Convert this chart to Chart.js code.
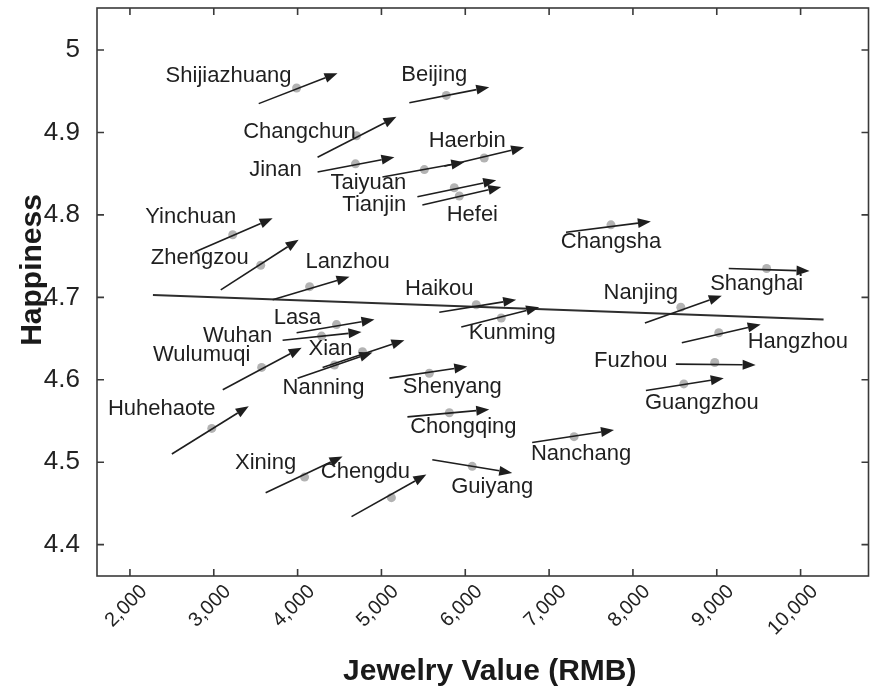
<!DOCTYPE html>
<html>
<head>
<meta charset="utf-8">
<title>Jewelry value and happiness</title>
<script src="https://cdn.jsdelivr.net/npm/chart.js@4.4.1/dist/chart.umd.min.js"></script>
<style>
  html, body { margin: 0; padding: 0; background: #fff; }
  #wrap { width: 873px; height: 700px; }
</style>
</head>
<body>
<div id="wrap"><canvas id="jewelryChart" width="873" height="700"></canvas></div>
<script>
// city data
const cities = [
  'Shijiazhuang', 'Beijing', 'Changchun', 'Jinan', 'Haerbin', 'Taiyuan', 'Tianjin', 'Hefei',
  'Yinchuan', 'Zhengzou', 'Lanzhou', 'Haikou', 'Kunming', 'Changsha', 'Nanjing', 'Shanghai',
  'Hangzhou', 'Fuzhou', 'Guangzhou', 'Nanchang', 'Lasa', 'Wuhan', 'Wulumuqi', 'Xian',
  'Nanning', 'Shenyang', 'Chongqing', 'Huhehaote', 'Xining', 'Chengdu', 'Guiyang'
];
const jewelry = [
  3988, 5774, 4702, 4690, 6226, 5512, 5869, 5929,
  3226, 3560, 4143, 6131, 6429, 7738, 8571, 9595,
  9024, 8976, 8607, 7298, 4464, 4286, 3571, 4774,
  4440, 5571, 5810, 2976, 4083, 5119, 6083
];
const happiness = [
  4.954, 4.945, 4.896, 4.862, 4.869, 4.855, 4.833, 4.823,
  4.776, 4.739, 4.713, 4.691, 4.675, 4.788, 4.688, 4.735,
  4.657, 4.621, 4.595, 4.531, 4.667, 4.653, 4.615, 4.634,
  4.618, 4.608, 4.560, 4.541, 4.482, 4.457, 4.495
];
// arrow tails and heads
const arrowFromX = [
  3536, 5333, 4238, 4238, 5750, 5012, 5429, 5488,
  2774, 3083, 3702, 5690, 5952, 7202, 8143, 9143,
  8583, 8512, 8155, 6798, 3988, 3821, 3107, 4298,
  4000, 5095, 5310, 2500, 3619, 4643, 5607
];
const arrowFromY = [
  4.935, 4.936, 4.870, 4.852, 4.859, 4.846, 4.822, 4.812,
  4.755, 4.709, 4.697, 4.682, 4.664, 4.779, 4.669, 4.735,
  4.645, 4.619, 4.587, 4.524, 4.657, 4.648, 4.588, 4.615,
  4.602, 4.602, 4.555, 4.510, 4.463, 4.434, 4.503
];
const arrowToX = [
  4476, 6286, 5179, 5155, 6702, 5988, 6369, 6429,
  3702, 4012, 4619, 6607, 6881, 8214, 9060, 10107,
  9524, 9464, 9083, 7774, 4917, 4762, 4048, 5274,
  4893, 6024, 6286, 3417, 4536, 5536, 6560
];
const arrowToY = [
  4.972, 4.955, 4.919, 4.870, 4.882, 4.864, 4.842, 4.834,
  4.796, 4.770, 4.725, 4.697, 4.688, 4.792, 4.702, 4.732,
  4.667, 4.618, 4.602, 4.539, 4.673, 4.658, 4.639, 4.648,
  4.633, 4.616, 4.564, 4.568, 4.507, 4.485, 4.487
];
// fitted line ends
const fitX = [2274, 10274];
const fitY = [4.703, 4.673];

const xTickValues = [2000, 3000, 4000, 5000, 6000, 7000, 8000, 9000, 10000];
const xTickLabels = ['2,000', '3,000', '4,000', '5,000', '6,000', '7,000', '8,000', '9,000', '10,000'];
const yTickValues = [4.4, 4.5, 4.6, 4.7, 4.8, 4.9, 5.0];
const yTickLabels = ['4.4', '4.5', '4.6', '4.7', '4.8', '4.9', '5'];

// label placement, px from each city's point to the label centre
const labelOffsets = [
  [-68, -12], [-12, -20], [-57, -4], [-80, 6], [-17, -17], [-56, 13], [-80, 17], [13, 19],
  [-42, -18], [-61, -7], [38, -25], [-37, -16], [11, 15], [0, 17], [-40, -14], [-10, 15],
  [79, 9], [-84, -2], [18, 19], [7, 17], [-39, -7], [-84, 0], [-60, -12], [-32, -3],
  [-11, 23], [23, 14], [14, 14], [-50, -19], [-39, -14], [-26, -26], [20, 21]
];

const FONT = '"Liberation Sans", Arial, Helvetica, sans-serif';

const arrowsAndLabels = {
  id: 'arrowsAndLabels',
  afterDatasetsDraw(chart) {
    const { ctx, scales: { x, y } } = chart;
    ctx.save();
    ctx.strokeStyle = '#1e1e1e';
    ctx.fillStyle = '#1e1e1e';
    ctx.lineWidth = 1.6;
    cities.forEach((name, i) => {
      const x0 = x.getPixelForValue(arrowFromX[i]);
      const y0 = y.getPixelForValue(arrowFromY[i]);
      const x1 = x.getPixelForValue(arrowToX[i]);
      const y1 = y.getPixelForValue(arrowToY[i]);
      const ang = Math.atan2(y1 - y0, x1 - x0);
      const headLen = 13;
      const headHalf = 5;
      const bx = x1 - headLen * Math.cos(ang);
      const by = y1 - headLen * Math.sin(ang);
      ctx.beginPath();
      ctx.moveTo(x0, y0);
      ctx.lineTo(bx, by);
      ctx.stroke();
      ctx.beginPath();
      ctx.moveTo(x1, y1);
      ctx.lineTo(bx + headHalf * Math.sin(ang), by - headHalf * Math.cos(ang));
      ctx.lineTo(bx - headHalf * Math.sin(ang), by + headHalf * Math.cos(ang));
      ctx.closePath();
      ctx.fill();
    });

    ctx.font = `22px ${FONT}`;
    ctx.fillStyle = '#1f1f1f';
    ctx.textAlign = 'center';
    ctx.textBaseline = 'middle';
    cities.forEach((name, i) => {
      const px = x.getPixelForValue(jewelry[i]) + labelOffsets[i][0];
      const py = y.getPixelForValue(happiness[i]) + labelOffsets[i][1];
      ctx.fillText(name, px, py);
    });
    ctx.restore();
  }
};

// box round the plot with inward tick marks on all four sides
const frameAndTitles = {
  id: 'frameAndTitles',
  afterDraw(chart) {
    const { ctx, chartArea: a, scales: { x, y } } = chart;
    ctx.save();
    ctx.strokeStyle = '#3a3a3a';
    ctx.lineWidth = 1.6;
    ctx.strokeRect(a.left, a.top, a.right - a.left, a.bottom - a.top);
    ctx.beginPath();
    x.ticks.forEach((t) => {
      const px = x.getPixelForValue(t.value);
      ctx.moveTo(px, a.bottom);
      ctx.lineTo(px, a.bottom - 7);
      ctx.moveTo(px, a.top);
      ctx.lineTo(px, a.top + 7);
    });
    y.ticks.forEach((t) => {
      const py = y.getPixelForValue(t.value);
      ctx.moveTo(a.left, py);
      ctx.lineTo(a.left + 7, py);
      ctx.moveTo(a.right, py);
      ctx.lineTo(a.right - 7, py);
    });
    ctx.stroke();

    ctx.fillStyle = '#1a1a1a';
    ctx.font = `bold 30px ${FONT}`;
    ctx.textAlign = 'center';
    ctx.textBaseline = 'middle';
    ctx.fillText('Jewelry Value (RMB)', (a.left + a.right) / 2 + 7, 672);
    ctx.translate(33, (a.top + a.bottom) / 2 - 22);
    ctx.rotate(-Math.PI / 2);
    ctx.fillText('Happiness', 0, 0);
    ctx.restore();
  }
};

const ctx = document.getElementById('jewelryChart').getContext('2d');

new Chart(ctx, {
  type: 'scatter',
  data: {
    datasets: [
      {
        label: 'Fit',
        type: 'line',
        data: fitX.map((v, i) => ({ x: v, y: fitY[i] })),
        borderColor: '#2e2e2e',
        borderWidth: 2,
        pointRadius: 0,
        fill: false
      },
      {
        label: 'Cities',
        data: jewelry.map((v, i) => ({ x: v, y: happiness[i] })),
        backgroundColor: '#b3b3b3',
        borderWidth: 0,
        pointRadius: 4.5
      }
    ]
  },
  options: {
    responsive: false,
    animation: false,
    layout: {
      padding: { top: 8, right: 1, left: 0, bottom: 0 }
    },
    plugins: {
      legend: { display: false },
      tooltip: { enabled: false }
    },
    scales: {
      x: {
        type: 'linear',
        min: 1607,
        max: 10810,
        afterBuildTicks(scale) {
          scale.ticks = xTickValues.map((v) => ({ value: v }));
        },
        afterFit(scale) {
          scale.height = 124;
          scale.paddingLeft = 0;
          scale.paddingRight = 0;
        },
        grid: { display: false, drawTicks: false },
        border: { display: false },
        ticks: {
          autoSkip: false,
          minRotation: 45,
          maxRotation: 45,
          padding: 4,
          labelOffset: 14,
          color: '#222',
          font: { family: FONT, size: 20 },
          callback(value, index) {
            return xTickLabels[index];
          }
        }
      },
      y: {
        type: 'linear',
        min: 4.362,
        max: 5.051,
        afterBuildTicks(scale) {
          scale.ticks = yTickValues.map((v) => ({ value: v }));
        },
        afterFit(scale) {
          scale.width = 97;
          scale.paddingTop = 0;
          scale.paddingBottom = 0;
        },
        grid: { display: false, drawTicks: false },
        border: { display: false },
        ticks: {
          padding: 17,
          color: '#222',
          font: { family: FONT, size: 26 },
          callback(value, index) {
            return yTickLabels[index];
          }
        }
      }
    }
  },
  plugins: [arrowsAndLabels, frameAndTitles]
});
</script>
</body>
</html>
